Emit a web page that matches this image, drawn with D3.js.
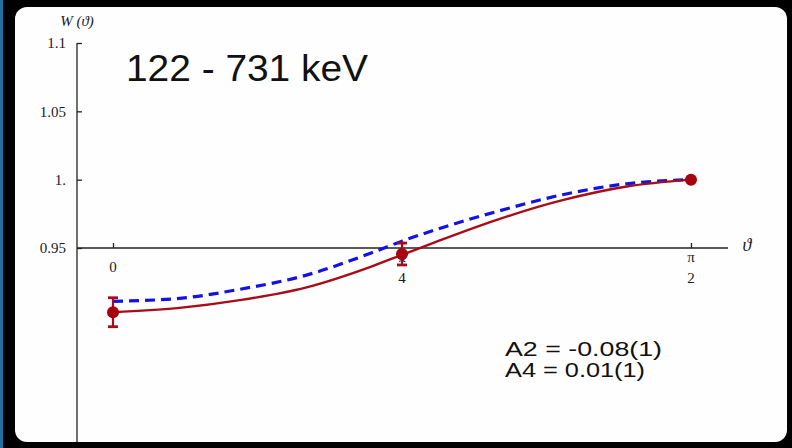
<!DOCTYPE html>
<html>
<head>
<meta charset="utf-8">
<script src="https://cdn.jsdelivr.net/npm/d3@7"></script>
<style>
  body { margin: 0; background: #000; }
  svg { display: block; }
</style>
</head>
<body>
<div id="chart"></div>
<script>

// angles in degrees (0 .. 90 = pi/2)
var curveAngles = [0, 10, 20, 30, 40, 45, 50, 60, 70, 80, 90];
var fitRed  = [0.903, 0.906, 0.912, 0.921, 0.936, 0.945, 0.954, 0.971, 0.985, 0.995, 1.0];
var fitBlue = [0.911, 0.913, 0.920, 0.930, 0.946, 0.955, 0.963, 0.977, 0.989, 0.997, 1.0];

var pointAngles = [0, 45, 90];
var pointValues = [0.903, 0.9456, 1.0];
var pointErrors = [0.0106, 0.008, 0];

var yTicks = [0.95, 1.0, 1.05, 1.1];
var yTickLabels = ["0.95", "1.", "1.05", "1.1"];
var xTicks = [0, 45, 90];
var xTickLabels = [["0"], ["\u03C0", "4"], ["\u03C0", "2"]];

var title = "122 - 731 keV";
var coeffs = ["A2 = -0.08(1)", "A4 = 0.01(1)"];
var coeffWidths = [157, 140];

var width = 792, height = 448;
var serif = "Liberation Serif, 'Times New Roman', serif";
var sans = "Liberation Sans, Arial, sans-serif";

var svg = d3.select("#chart").append("svg")
    .attr("width", width)
    .attr("height", height);

// slide frame
svg.append("rect")
    .attr("width", width).attr("height", height)
    .attr("fill", "#000");
svg.append("rect")
    .attr("x", 0).attr("y", 0)
    .attr("width", 3).attr("height", height)
    .attr("fill", "#1f6f9f");
svg.append("rect")
    .attr("x", 15).attr("y", 7)
    .attr("width", 772).attr("height", 435)
    .attr("rx", 12)
    .attr("fill", "#fefefe");

var x = d3.scaleLinear()
    .domain([0, 90])
    .range([113, 691]);

var y = d3.scaleLinear()
    .domain([0.95, 1.1])
    .range([248, 43]);

var axisX0 = 77;

// y axis: line runs to the bottom of the slide
svg.append("line")
    .attr("x1", axisX0).attr("x2", axisX0)
    .attr("y1", y(1.1)).attr("y2", 442)
    .attr("stroke", "#222")
    .attr("stroke-width", 1.3);

var yAxis = d3.axisRight(y)
    .tickValues(yTicks)
    .tickSize(5)
    .tickFormat("");

svg.append("g")
    .attr("transform", "translate(" + axisX0 + ",0)")
    .call(yAxis)
    .call(function(g) {
        g.select(".domain").remove();
        g.selectAll(".tick line").attr("stroke", "#222").attr("stroke-width", 1.3);
    });

svg.append("g")
    .selectAll("text")
    .data(yTicks)
    .join("text")
    .attr("x", 66)
    .attr("y", function(d) { return y(d); })
    .attr("dy", "0.35em")
    .attr("text-anchor", "end")
    .attr("font-family", serif)
    .attr("font-size", 15)
    .attr("fill", "#1a1a2a")
    .text(function(d, i) { return yTickLabels[i]; });

// x axis sits at y = 0.95
var xAxis = d3.axisTop(x)
    .tickValues(xTicks)
    .tickSize(5)
    .tickSizeOuter(0)
    .tickFormat("");

svg.append("g")
    .attr("transform", "translate(0," + y(0.95) + ")")
    .call(xAxis)
    .call(function(g) {
        g.select(".domain").remove();
        g.selectAll(".tick line").attr("stroke", "#222").attr("stroke-width", 1.3);
    });

svg.append("line")
    .attr("x1", axisX0).attr("x2", 728)
    .attr("y1", y(0.95)).attr("y2", y(0.95))
    .attr("stroke", "#222")
    .attr("stroke-width", 1.3);

var xLab = svg.append("g")
    .selectAll("g")
    .data(xTicks)
    .join("g")
    .attr("transform", function(d) { return "translate(" + x(d) + "," + y(0.95) + ")"; });

xLab.each(function(d, i) {
    var lines = xTickLabels[i];
    var g = d3.select(this);
    lines.forEach(function(t, j) {
        g.append("text")
            .attr("x", 0)
            .attr("y", lines.length == 1 ? 19 : 9 + j * 21)
            .attr("dy", "0.35em")
            .attr("text-anchor", "middle")
            .attr("font-family", serif)
            .attr("font-size", 15)
            .attr("fill", "#1a1a2a")
            .text(t);
    });
});

svg.append("text")
    .attr("x", 747).attr("y", 245)
    .attr("dy", "0.35em")
    .attr("text-anchor", "middle")
    .attr("font-family", serif)
    .attr("font-style", "italic")
    .attr("font-size", 18)
    .attr("fill", "#1a1a2a")
    .text("\u03D1");

svg.append("text")
    .attr("x", 77).attr("y", 21)
    .attr("dy", "0.35em")
    .attr("text-anchor", "middle")
    .attr("font-family", serif)
    .attr("font-style", "italic")
    .attr("font-size", 15)
    .attr("fill", "#1a1a2a")
    .text("W (\u03D1)");

// fitted curves
var line = d3.line()
    .x(function(d) { return x(d[0]); })
    .y(function(d) { return y(d[1]); })
    .curve(d3.curveMonotoneX);

svg.append("path")
    .datum(d3.zip(curveAngles, fitBlue))
    .attr("d", line)
    .attr("fill", "none")
    .attr("stroke", "#1212e6")
    .attr("stroke-width", 3.2)
    .attr("stroke-dasharray", "10,6");

svg.append("path")
    .datum(d3.zip(curveAngles, fitRed))
    .attr("d", line)
    .attr("fill", "none")
    .attr("stroke", "#a80c18")
    .attr("stroke-width", 2.4);

// data points with error bars
var pts = svg.append("g")
    .selectAll("g")
    .data(d3.zip(pointAngles, pointValues, pointErrors))
    .join("g");

pts.filter(function(d) { return d[2] > 0; }).each(function(d) {
    var g = d3.select(this), cx = x(d[0]);
    g.append("line")
        .attr("x1", cx).attr("x2", cx)
        .attr("y1", y(d[1] + d[2])).attr("y2", y(d[1] - d[2]))
        .attr("stroke", "#a80c18").attr("stroke-width", 2.2);
    [d[1] + d[2], d[1] - d[2]].forEach(function(v) {
        g.append("line")
            .attr("x1", cx - 5).attr("x2", cx + 5)
            .attr("y1", y(v)).attr("y2", y(v))
            .attr("stroke", "#a80c18").attr("stroke-width", 2.8);
    });
});

pts.append("circle")
    .attr("cx", function(d) { return x(d[0]); })
    .attr("cy", function(d) { return y(d[1]); })
    .attr("r", 6)
    .attr("fill", "#a8000c");

// annotations
svg.append("text")
    .attr("x", 126).attr("y", 81)
    .attr("font-family", sans)
    .attr("font-size", 37)
    .attr("textLength", 242)
    .attr("lengthAdjust", "spacingAndGlyphs")
    .attr("fill", "#111")
    .text(title);

svg.append("g")
    .selectAll("text")
    .data(coeffs)
    .join("text")
    .attr("x", 505)
    .attr("y", function(d, i) { return 356 + i * 21; })
    .attr("font-family", sans)
    .attr("font-size", 19.5)
    .attr("textLength", function(d, i) { return coeffWidths[i]; })
    .attr("lengthAdjust", "spacingAndGlyphs")
    .attr("fill", "#111")
    .text(function(d) { return d; });

</script>
</body>
</html>
